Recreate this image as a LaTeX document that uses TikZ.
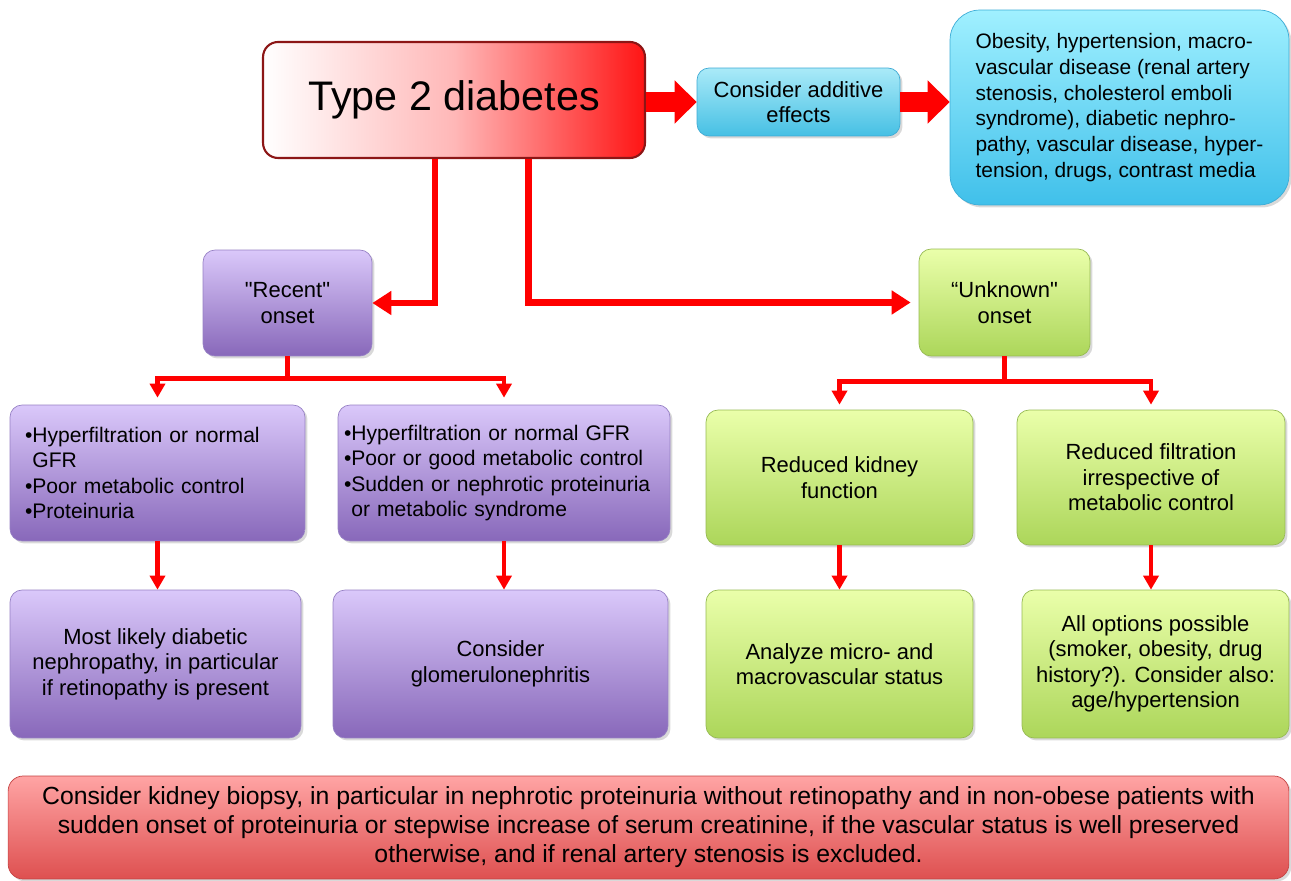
\documentclass[tikz,border=0pt]{standalone}
\usepackage{fontspec}
\setmainfont{Liberation Sans}
\usetikzlibrary{arrows.meta,positioning,calc,shadows}

\definecolor{purpleTop}{RGB}{218,200,250}
\definecolor{purpleBot}{RGB}{136,104,186}
\definecolor{purpleEdge}{RGB}{150,128,196}
\definecolor{greenTop}{RGB}{234,255,170}
\definecolor{greenBot}{RGB}{172,214,90}
\definecolor{greenEdge}{RGB}{150,186,82}
\definecolor{blueTop}{RGB}{170,234,248}
\definecolor{blueBot}{RGB}{70,192,228}
\definecolor{blueEdge}{RGB}{62,170,212}
\definecolor{cyanTop}{RGB}{160,240,255}
\definecolor{cyanBot}{RGB}{64,192,234}
\definecolor{cyanEdge}{RGB}{60,172,214}
\definecolor{roseTop}{RGB}{255,164,164}
\definecolor{roseBot}{RGB}{222,80,80}
\definecolor{roseEdge}{RGB}{196,66,66}
\definecolor{darkRed}{RGB}{140,22,22}

\begin{document}
\begin{tikzpicture}[x=0.02cm, y=-0.02cm,
    box/.style={rounded corners=0.24cm, draw=#1Edge, top color=#1Top, bottom color=#1Bot,
      drop shadow={opacity=0.3, shadow xshift=0.05cm, shadow yshift=-0.05cm},
      align=center, inner sep=0pt, font=\fontsize{12.5}{14.5}\selectfont},
    fat/.style={red, line width=0.4cm, -{Triangle[length=0.44cm, width=0.84cm]}},
    mainln/.style={red, line width=0.13cm, -{Triangle[length=0.38cm, width=0.46cm]}},
    subln/.style={red, line width=0.09cm, -{Triangle[length=0.28cm, width=0.3cm]}}]
    \useasboundingbox (0,0) rectangle (1291,881);

    % Type 2 diabetes
    \node[rounded corners=0.3cm, draw=darkRed, line width=1.2pt, left color=white, right color=red!92,
      middle color=red!28, minimum width=7.64cm, minimum height=2.32cm,
      font=\fontsize{23.5}{27}\selectfont] (t2d) at (454,100) {Type 2 diabetes};

    % Additive effects
    \node[box=blue, minimum width=4.06cm, minimum height=1.36cm] (add) at (798.5,102)
      {Consider additive\\effects};
    \node[box=cyan, rounded corners=0.6cm, minimum width=6.78cm, minimum height=3.9cm,
      align=left, font=\fontsize{11.9}{14.6}\selectfont] (risk) at (1119.5,107.5)
      {Obesity, hypertension, macro-\\vascular disease (renal artery\\stenosis, cholesterol emboli\\syndrome), diabetic nephro-\\pathy, vascular disease, hyper-\\tension, drugs, contrast media};

    % Onset
    \node[box=purple, minimum width=3.38cm, minimum height=2.12cm] (recent) at (287.5,303)
      {\textquotedbl Recent\textquotedbl\\onset};
    \node[box=green, minimum width=3.42cm, minimum height=2.14cm] (unknown) at (1004.5,302.5)
      {\textquotedblleft Unknown\textquotedbl\\onset};

    % Recent branch
    \node[box=purple, minimum width=5.9cm, minimum height=2.72cm, text width=5.3cm,
      inner xsep=0.3cm, align=left, font=\fontsize{12}{14.5}\selectfont] (hypA) at (157.5,473)
      {\textbullet Hyperfiltration or normal\\\phantom{\textbullet}GFR\\\textbullet Poor metabolic control\\\textbullet Proteinuria};
    \node[box=purple, minimum width=6.64cm, minimum height=2.72cm, text width=6.4cm,
      inner xsep=0.12cm, align=left, font=\fontsize{12}{14.5}\selectfont] (hypB) at (504,473)
      {\textbullet Hyperfiltration or normal GFR\\\textbullet Poor or good metabolic control\\\textbullet Sudden or nephrotic proteinuria\\\phantom{\textbullet}or metabolic syndrome};
    \node[box=purple, minimum width=5.82cm, minimum height=2.96cm] (likely) at (155.5,664)
      {Most likely diabetic\\nephropathy, in particular\\if retinopathy is present};
    \node[box=purple, minimum width=6.7cm, minimum height=2.96cm] (glom) at (500.5,664)
      {Consider\\glomerulonephritis};

    % Unknown branch
    \node[box=green, minimum width=5.34cm, minimum height=2.7cm] (redkid) at (839.5,477.5)
      {Reduced kidney\\function};
    \node[box=green, minimum width=5.36cm, minimum height=2.7cm] (redfilt) at (1151,477.5)
      {Reduced filtration\\irrespective of\\metabolic control};
    \node[box=green, minimum width=5.34cm, minimum height=2.96cm] (analyze) at (839.5,664)
      {Analyze micro- and\\macrovascular status};
    \node[box=green, minimum width=5.34cm, minimum height=2.96cm] (options) at (1155.5,664)
      {All options possible\\(smoker, obesity, drug\\history?). Consider also:\\age/hypertension};

    % Biopsy
    \node[box=rose, rounded corners=0.3cm, minimum width=25.62cm, minimum height=2.06cm,
      font=\fontsize{14.1}{16.5}\selectfont] (biopsy) at (648.5,827.5)
      {Consider kidney biopsy, in particular in nephrotic proteinuria without retinopathy and in non-obese patients with\\sudden onset of proteinuria or stepwise increase of serum creatinine, if the vascular status is well preserved\\otherwise, and if renal artery stenosis is excluded.};

    % Arrows
    \draw[fat] (t2d.east |- add.west) -- (add.west);
    \draw[fat] (add.east) -- (add.east -| risk.west);
    \draw[mainln] ($(t2d.south west)!0.45!(t2d.south east)$) |- (recent.east);
    \draw[mainln, shorten >=0.16cm] ($(t2d.south west)!0.694!(t2d.south east)$) |- (unknown.west);
    \draw[subln, shorten >=0.14cm] (recent.south) -- ++(0,22) -| (hypA.north);
    \draw[subln, shorten >=0.14cm] (recent.south) -- ++(0,22) -| (hypB.north);
    \draw[subln, shorten >=0.1cm] (unknown.south) -- ++(0,25) -| (redkid.north);
    \draw[subln, shorten >=0.1cm] (unknown.south) -- ++(0,25) -| (redfilt.north);
    \draw[subln] (hypA.south) -- (hypA.south |- likely.north);
    \draw[subln] (hypB.south) -- (hypB.south |- glom.north);
    \draw[subln] (redkid.south) -- (analyze.north);
    \draw[subln] (redfilt.south) -- (redfilt.south |- options.north);
\end{tikzpicture}
\end{document}
